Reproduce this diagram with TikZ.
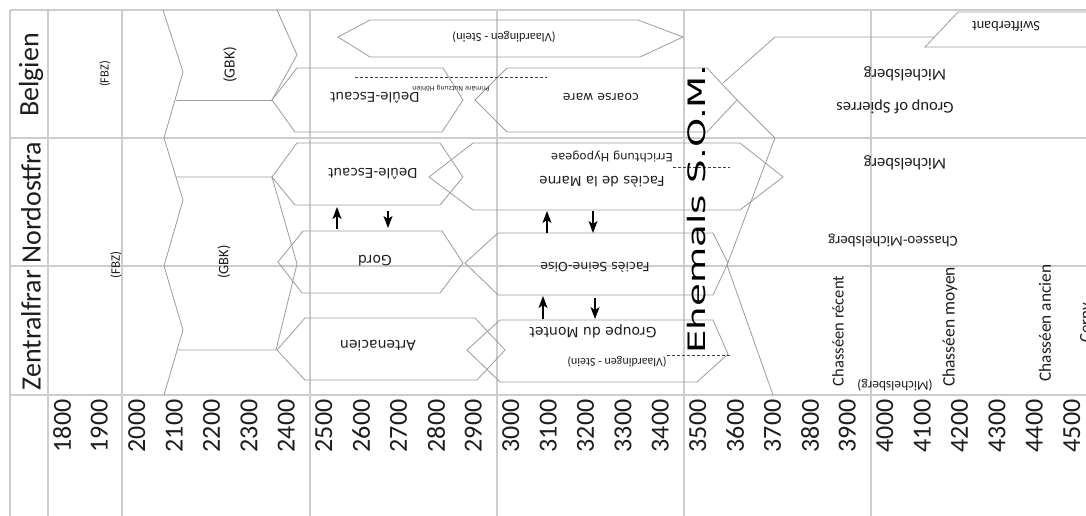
\documentclass[tikz,border=0pt]{standalone}
\usepackage{fontspec}
\usepackage{graphicx}
\setmainfont{Carlito}
\newfontfamily\dv{DejaVu Sans}
\usetikzlibrary{arrows.meta}
\definecolor{gridc}{HTML}{CDCDCD}
\definecolor{shapec}{HTML}{9C9C9C}
\definecolor{txt}{HTML}{1E1E1E}
\tikzset{
  gridline/.style={gridc, line width=1.6pt},
  shp/.style={shapec, line width=0.8pt, line join=miter},
  dashln/.style={black!75, line width=0.6pt, dash pattern=on 3pt off 2pt},
  arr/.style={-{Stealth[length=12pt,width=9pt,inset=3pt]}, line width=1.3pt, black},
  lab/.style={inner sep=0pt, text=txt},
  up/.style={lab, rotate=90},
  flip/.style={lab, rotate=180},
  cal/.style={font=\fontsize{#1}{#1}\selectfont},
  dvs/.style={font=\fontsize{#1}{#1}\dv\selectfont},
}
\begin{document}
\begin{tikzpicture}[x=1pt,y=-1pt]
\useasboundingbox (0,0) rectangle (1086,516);
\fill[white] (0,0) rectangle (1086,516);
\begin{scope}
\clip (0,0) rectangle (1086,516);
% ---------- grid ----------
\foreach \x in {10,48,122,310,497,684,871} \draw[gridline] (\x,10) -- (\x,516);
\foreach \y in {10,138,266,395} \draw[gridline] (10,\y) -- (1086,\y);

% ---------- GBK ----------
\draw[shp] (163,10) -- (183,72) -- (164,138) -- (183,200) -- (164,266) -- (183,330) -- (164,395);
\draw[shp] (277,10) -- (297,55) -- (272,100);
\draw[shp] (176,100) -- (272,100);
\draw[shp] (176,177) -- (272,177) -- (297,264) -- (276,350) -- (178,350);

% ---------- Belgien shapes ----------
\draw[shp] (338,37) -- (370,20) -- (638,20) -- (683,37) -- (640,57) -- (370,57) -- cycle;
\draw[shp] (272,100) -- (297,68) -- (443,68) -- (463,100) -- (442,132) -- (295,132) -- cycle;
\draw[shp] (475,100) -- (507,68) -- (707,68) -- (737,100) -- (707,132) -- (507,132) -- cycle;
\draw[shp] (723,83) -- (775,37) -- (934,37);
\draw[shp] (737,100) -- (775,138);
\draw[shp] (1086,12) -- (958,12) -- (925,47) -- (1086,47);
\coordinate (dA1) at (355,77); \coordinate (dA2) at (547,77);
\draw[dashln] (dA1) -- (dA2);

% ---------- Nordost shapes ----------
\draw[shp] (272,177) -- (297,143) -- (440,143) -- (463,177) -- (440,205) -- (295,205) -- cycle;
\draw[shp] (429,177) -- (473,143) -- (740,143) -- (783,177) -- (740,210) -- (473,210) -- cycle;
\draw[shp] (775,138) -- (727,265) -- (773,395);
\coordinate (dB1) at (673,167); \coordinate (dB2) at (730,167);
\draw[dashln] (dB1) -- (dB2);

% ---------- middle shapes ----------
\draw[shp] (278,262) -- (303,231) -- (442,231) -- (463,263) -- (440,293) -- (302,293) -- cycle;
\draw[shp] (465,263) -- (498,233) -- (713,233) -- (728,263) -- (713,295) -- (498,295) -- cycle;

% ---------- Zentral shapes ----------
\draw[shp] (277,350) -- (305,318) -- (475,318) -- (505,350) -- (477,380) -- (305,380) -- cycle;
\draw[shp] (467,350) -- (500,320) -- (713,320) -- (728,354) -- (697,382) -- (500,382) -- cycle;
\coordinate (dC1) at (667,355); \coordinate (dC2) at (730,355);
\draw[dashln] (dC1) -- (dC2);

% ---------- arrows ----------
\coordinate (a1s) at (337,229); \coordinate (a1e) at (337,207);
\coordinate (a2s) at (388,211); \coordinate (a2e) at (388,228);
\coordinate (a3s) at (547,233); \coordinate (a3e) at (547,211);
\coordinate (a4s) at (593,211); \coordinate (a4e) at (593,233);
\coordinate (a5s) at (543,319); \coordinate (a5e) at (543,296);
\coordinate (a6s) at (595,298); \coordinate (a6e) at (595,319);
\draw[arr] (a1s) -- (a1e);
\draw[arr] (a2s) -- (a2e);
\draw[arr] (a3s) -- (a3e);
\draw[arr] (a4s) -- (a4e);
\draw[arr] (a5s) -- (a5e);
\draw[arr] (a6s) -- (a6e);

% ---------- row labels ----------
\node[up, cal=28] (belg) at (31,75) {Belgien};
\node[up, cal=28] (zent) at (31,266) {Zentralfrar Nordostfra};

% ---------- year labels ----------
\foreach \yr in {1800,1900,...,4500}
  \node[up, cal=26] (yr\yr) at ({62+(\yr-1800)*0.3740},426) {\yr};

% ---------- Belgien texts ----------
\node[up, cal=12.5] (fbz1) at (105,74) {(FBZ)};
\node[up, cal=15.5] (gbk1) at (230,65) {(GBK)};
\node[flip, cal=12.5] (vs1) at (504,37) {(Vlaardingen - Stein)};
\node[flip, dvs=13.5] (de1) at (375,98) {Deûle-Escaut};
\node[flip, dvs=6.3] (prim) at (451,88) {Primäre Nutzung Höhlen};
\node[flip, dvs=12.5] (cw) at (601,97) {coarse ware};
\node[flip, cal=14.5] (swi) at (1006,26) {Swifterbant};
\node[flip, cal=16.5] (mi1) at (905,74) {Michelsberg};
\node[flip, cal=16.5] (spi) at (895,107) {Group of Spierres};

% ---------- Nordost texts ----------
\node[flip, dvs=13.5] (de2) at (373,174) {Deûle-Escaut};
\node[flip, dvs=11.5] (hyp) at (612,157) {Errichtung Hypogeae};
\node[flip, dvs=13.5] (mar) at (602,182) {Faciès de la Marne};
\node[flip, cal=16.5] (mi2) at (905,163) {Michelsberg};
\node[flip, cal=15] (chm) at (893,240) {Chasseo-Michelsberg};
\node[up, cal=13] (fbz2) at (116,265) {(FBZ)};
\node[up, cal=14.5] (gbk2) at (224,262) {(GBK)};

% ---------- middle texts ----------
\node[flip, dvs=14] (gord) at (375,261) {Gord};
\node[flip, dvs=12.5] (so) at (595,267) {Faciès Seine-Oise};

% ---------- Zentral texts ----------
\node[flip, dvs=14] (art) at (378,346) {Artenacien};
\node[flip, dvs=14] (mon) at (593,331) {Groupe du Montet};
\node[flip, cal=12] (vs2) at (617,362) {(Vlaardingen - Stein)};
\node[up, cal=16.5] (chr) at (838,331) {Chasséen récent};
\node[flip, cal=13.5] (mi3) at (895,385) {(Michelsberg)};
\node[up, cal=17.5] (chmo) at (950,327) {Chasséen moyen};
\node[up, cal=17.3] (chan) at (1045,323) {Chasséen ancien};
\node[up, cal=17] (cer) at (1087,323) {Cerny};

% ---------- Ehemals ----------
\node[up, text=black, dvs=24] (ehem) at (697,209) {\scalebox{1.55}[1]{Ehemals S.O.M.}};
\end{scope}
\end{tikzpicture}
\end{document}
